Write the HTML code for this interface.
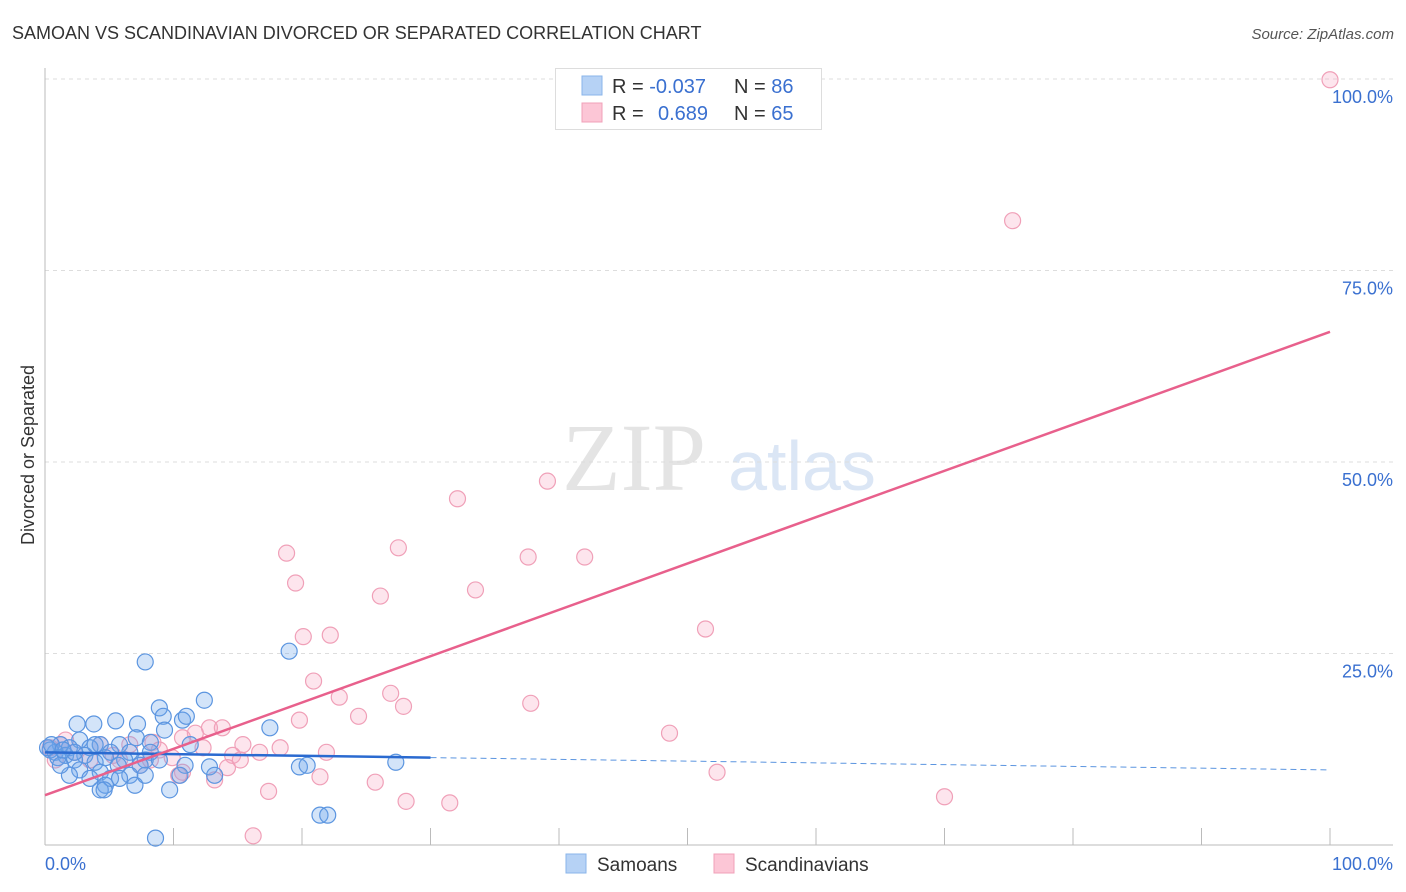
<!DOCTYPE html>
<html><head><meta charset="utf-8"><style>
body{margin:0;background:#fff;font-family:"Liberation Sans",sans-serif;}
svg{display:block}
</style></head><body>
<svg id="chart" width="1406" height="892" xmlns="http://www.w3.org/2000/svg">
<text x="12" y="39" font-size="18" fill="#333">SAMOAN VS SCANDINAVIAN DIVORCED OR SEPARATED CORRELATION CHART</text>
<text x="1394" y="39" font-size="15" fill="#555" font-style="italic" text-anchor="end">Source: ZipAtlas.com</text>
<text x="634" y="490" font-size="96" fill="#e4e4e4" font-family="Liberation Serif,serif" text-anchor="middle">ZIP</text>
<text x="802" y="490" font-size="70" fill="#dbe6f5" text-anchor="middle">atlas</text>
<text transform="translate(34,455) rotate(-90)" font-size="18" fill="#333" text-anchor="middle">Divorced or Separated</text>
<g id="grid"></g>
<g id="marks"></g>
<g>
<rect x="555.5" y="68.5" width="266" height="61" fill="#fff" stroke="#ddd"/>
<rect x="582" y="76" width="20" height="19" fill="#b6d2f5" stroke="#8ab4ea"/>
<rect x="582" y="103" width="20" height="19" fill="#fcc6d6" stroke="#f0a0b8"/>
<text x="612" y="93" font-size="20" fill="#333">R = <tspan fill="#3a70d0">-0.037</tspan></text>
<text x="734" y="93" font-size="20" fill="#333">N = <tspan fill="#3a70d0">86</tspan></text>
<text x="612" y="120" font-size="20" fill="#333">R = <tspan x="658" fill="#3a70d0">0.689</tspan></text>
<text x="734" y="120" font-size="20" fill="#333">N = <tspan fill="#3a70d0">65</tspan></text>
</g>
<g>
<rect x="566" y="854" width="20" height="19" fill="#b6d2f5" stroke="#8ab4ea"/>
<text x="597" y="871" font-size="19" fill="#333">Samoans</text>
<rect x="714" y="854" width="20" height="19" fill="#fcc6d6" stroke="#f0a0b8"/>
<text x="745" y="871" font-size="19" fill="#333">Scandinavians</text>
</g>
</svg>
<script>
const yTicks=[25,50,75,100];
const yTickLabels=["25.0%","50.0%","75.0%","100.0%"];
const xTicks=[10,20,30,40,50,60,70,80,90,100];
const samoanX=[7.8,19.0,8.9,12.4,2.5,3.8,5.5,7.2,9.2,10.7,11.0,17.5,2.7,4.3,5.8,7.1,8.2,1.2,1.9,3.5,5.1,6.6,8.2,0.8,1.6,3.1,4.7,6.2,7.8,0.4,1.0,2.3,3.9,5.7,7.4,8.9,11.3,2.7,4.3,1.9,3.5,5.1,6.6,12.8,10.9,19.8,20.4,27.3,4.7,7.0,10.5,13.2,4.3,9.7,8.6,21.4,22.0,7.8,2.3,3.9,9.3,0.2,0.5,1.4,5.8,1.2,4.6];
const samoanY=[23.9,25.3,17.9,18.9,15.8,15.8,16.2,15.8,16.8,16.3,16.8,15.3,13.7,13.1,13.1,14.0,13.4,13.1,12.7,12.7,12.1,12.1,12.1,12.1,11.7,11.7,11.4,11.1,11.1,12.4,11.4,11.1,10.8,10.4,10.4,11.1,13.1,9.8,9.5,9.1,8.7,8.7,9.1,10.2,10.4,10.2,10.4,10.8,7.8,7.8,9.1,9.1,7.2,7.2,0.9,3.9,3.9,9.1,12.1,13.1,15.0,12.7,13.1,12.4,8.7,10.4,7.2];
const scandX=[100,75.3,39.1,32.1,18.8,27.5,37.6,42.0,19.5,26.1,33.5,20.1,22.2,51.4,20.9,22.9,26.9,27.9,24.4,19.8,37.8,12.8,13.8,48.6,11.7,10.7,15.4,18.3,21.9,16.7,12.3,14.6,9.9,8.4,6.6,5.3,4.3,1.2,2.3,0.4,10.7,13.2,14.2,15.2,21.4,25.7,52.3,17.4,28.1,31.5,70.0,16.2,0.8,3.5,7.4,8.9,5.8,1.6,10.4,8.2];
const scandY=[99.9,81.5,47.5,45.2,38.1,38.8,37.6,37.6,34.2,32.5,33.3,27.2,27.4,28.2,21.4,19.3,19.8,18.1,16.8,16.3,18.5,15.3,15.3,14.6,14.6,14.0,13.1,12.7,12.1,12.1,12.7,11.7,11.4,13.4,13.1,11.7,13.1,13.1,12.1,12.7,9.5,8.5,10.1,11.1,8.9,8.2,9.5,7.0,5.7,5.5,6.3,1.2,11.1,11.1,10.4,12.4,11.1,13.7,9.1,11.1];
const samoanTrend=[12.1,9.8];
const scandTrend=[6.5,67.0];
const X0=45,X1=1330,Y0=845,Y1=79;
function sx(v){return X0+(X1-X0)*v/100;}
function sy(v){return Y0-(Y0-Y1)*v/100;}
const NS="http://www.w3.org/2000/svg";
function mk(tag,attrs,parent){const e=document.createElementNS(NS,tag);for(const k in attrs)e.setAttribute(k,attrs[k]);parent.appendChild(e);return e;}
const grid=document.getElementById('grid'),marks=document.getElementById('marks');
yTicks.forEach((t,i)=>{
 const l=mk('line',{x1:X0,x2:1393,y1:sy(t),y2:sy(t),stroke:'#ddd','stroke-dasharray':'4,4'},grid);
 
 
 const tx=mk('text',{x:1393,y:sy(t)+24,'font-size':18,fill:'#3a70d0','text-anchor':'end'},grid);
 tx.textContent=yTickLabels[i];
 
 
});
const ax=mk('line',{x1:X0,x2:X0,y1:68,y2:Y0,stroke:'#bbb'},grid);


const bx=mk('line',{x1:X0,x2:1393,y1:Y0,y2:Y0,stroke:'#bbb'},grid);


xTicks.forEach(t=>{
 const l=mk('line',{x1:sx(t),x2:sx(t),y1:828,y2:Y0,stroke:'#bbb'},grid);
 
 
});
const xl0=mk('text',{x:45,y:870,'font-size':18,fill:'#3a70d0'},grid);xl0.textContent='0.0%';


const xl1=mk('text',{x:1393,y:870,'font-size':18,fill:'#3a70d0','text-anchor':'end'},grid);xl1.textContent='100.0%';


scandX.forEach((v,i)=>{
 const c=mk('circle',{cx:sx(v),cy:sy(scandY[i]),r:8,fill:'rgba(248,170,195,0.3)',stroke:'#f0a0b8','stroke-width':1.2},marks);
 
 
});
samoanX.forEach((v,i)=>{
 const c=mk('circle',{cx:sx(v),cy:sy(samoanY[i]),r:8,fill:'rgba(110,165,235,0.3)',stroke:'#5b95e0','stroke-width':1.2},marks);
 
 
});
const bs=samoanTrend[0],be=samoanTrend[1];
const t1=mk('line',{x1:sx(0),y1:sy(bs),x2:sx(30),y2:sy(bs+(be-bs)*0.3),stroke:'#2a6ad0','stroke-width':2.5},marks);


const t2=mk('line',{x1:sx(30),y1:sy(bs+(be-bs)*0.3),x2:sx(100),y2:sy(be),stroke:'#5b95e0','stroke-width':1,'stroke-dasharray':'6,4'},marks);


const t3=mk('line',{x1:sx(0),y1:sy(scandTrend[0]),x2:sx(100),y2:sy(scandTrend[1]),stroke:'#e8608c','stroke-width':2.5},marks);


</script>
</body></html>
